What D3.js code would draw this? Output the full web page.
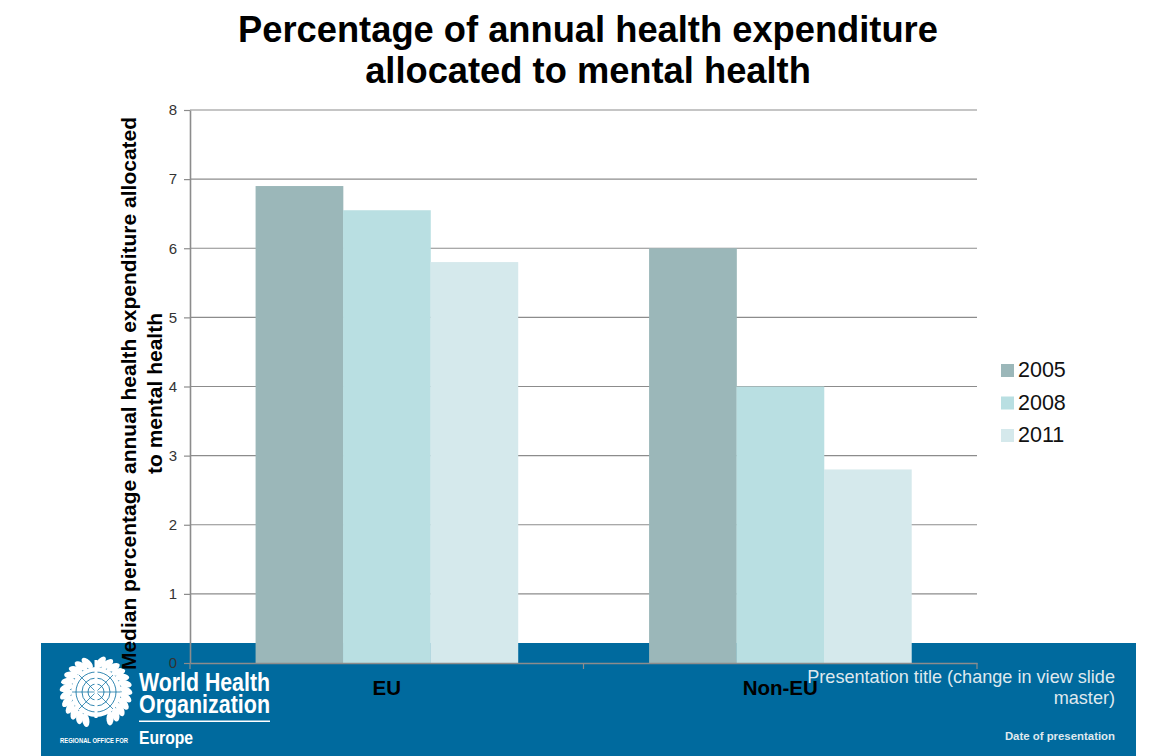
<!DOCTYPE html>
<html>
<head>
<meta charset="utf-8">
<script src="https://cdn.jsdelivr.net/npm/d3@7"></script>
<style>
  html, body { margin: 0; padding: 0; background: #fff; }
  svg { display: block; }
  text { font-family: "Liberation Sans", Arial, sans-serif; }
  .domain, .tick line { stroke: #8c8c8c; }
</style>
</head>
<body>
<div id="chart-container"></div>
<script>
(function() {
  'use strict';

const categories = ['EU', 'Non-EU'];
const years = ['2005', '2008', '2011'];
const values2005 = [6.9, 6.0];
const values2008 = [6.55, 4.0];
const values2011 = [5.8, 2.8];
const yTicks = [0, 1, 2, 3, 4, 5, 6, 7, 8];

const W = 1158;
const H = 756;
const LEFT = 190, RIGHT = 977, TOP = 110, BOTTOM = 663;
const colors = d3.scaleOrdinal().domain(years).range(['#9bb7b9', '#b9dfe2', '#d5e9ec']);
const BAND = '#006a9e';

const series = years.map((y, i) => ({
  year: y,
  values: [values2005, values2008, values2011][i]
}));

const svg = d3.select('#chart-container').append('svg')
  .attr('width', W)
  .attr('height', H);

// slide footer sits behind the chart
svg.append('rect')
  .attr('x', 41).attr('y', 643)
  .attr('width', 1095).attr('height', 113)
  .attr('fill', BAND);

drawLogo();

// slide title
svg.append('g')
  .attr('text-anchor', 'middle')
  .attr('font-size', 36.3)
  .attr('font-weight', 'bold')
  .selectAll('text')
  .data(['Percentage of annual health expenditure', 'allocated to mental health'])
  .join('text')
    .attr('x', 588)
    .attr('y', (d, i) => 42 + i * 41)
    .attr('fill', '#000')
    .text(d => d);

const xScale = d3.scaleBand().domain(categories).range([LEFT, RIGHT]);
const xInner = d3.scaleBand().domain(years)
  .range([0, xScale.bandwidth()])
  .paddingInner(0)
  .paddingOuter(0.75);
const yScale = d3.scaleLinear().domain([0, 8]).range([BOTTOM, TOP]);

// grid lines
svg.append('g')
  .selectAll('line')
  .data(yTicks.slice(1))
  .join('line')
    .attr('x1', LEFT).attr('x2', RIGHT)
    .attr('y1', d => yScale(d)).attr('y2', d => yScale(d))
    .attr('stroke', '#8c8c8c')
    .attr('stroke-width', 1.2);

// bars
svg.append('g')
  .selectAll('g')
  .data(series)
  .join('g')
    .attr('fill', d => colors(d.year))
  .selectAll('rect')
  .data(d => d.values.map((v, i) => ({ cat: categories[i], year: d.year, v: v })))
  .join('rect')
    .attr('x', d => xScale(d.cat) + xInner(d.year))
    .attr('y', d => yScale(d.v))
    .attr('width', xInner.bandwidth() + 0.3)
    .attr('height', d => BOTTOM - yScale(d.v));

// y axis
const yAxis = d3.axisLeft(yScale).tickValues(yTicks).tickSize(6).tickPadding(7).tickSizeOuter(0);
const yG = svg.append('g')
  .attr('transform', `translate(${LEFT}, 0)`)
  .call(yAxis);
yG.selectAll('.domain').attr('stroke-width', 1.6);
yG.selectAll('.tick line').attr('stroke-width', 1.2);
yG.selectAll('.tick text')
  .attr('font-size', 15)
  .attr('fill', '#333')
  .style('font-family', '"Liberation Sans", Arial, sans-serif');

// x axis
const xAxis = d3.axisBottom(xScale).tickSize(0).tickPadding(17);
const xG = svg.append('g')
  .attr('transform', `translate(0, ${BOTTOM})`)
  .call(xAxis);
xG.selectAll('.domain').attr('stroke-width', 1.6);
xG.selectAll('.tick text')
  .attr('font-size', 20.5)
  .attr('font-weight', 'bold')
  .attr('fill', '#000')
  .style('font-family', '"Liberation Sans", Arial, sans-serif');

// separators between the categories
xG.selectAll('.sep')
  .data([LEFT, (LEFT + RIGHT) / 2, RIGHT])
  .join('line')
    .attr('class', 'sep')
    .attr('x1', d => d).attr('x2', d => d)
    .attr('y1', 0).attr('y2', 6)
    .attr('stroke', '#8c8c8c')
    .attr('stroke-width', 1.2);

// y axis title, two lines
svg.append('g')
  .attr('transform', 'translate(136, 393.5) rotate(-90)')
  .attr('text-anchor', 'middle')
  .attr('font-size', 21)
  .attr('font-weight', 'bold')
  .selectAll('text')
  .data(['Median percentage annual health expenditure allocated', 'to mental health'])
  .join('text')
    .attr('x', 0)
    .attr('y', (d, i) => i * 26)
    .attr('fill', '#000')
    .text(d => d);

// legend
const legend = svg.append('g')
  .selectAll('g')
  .data(years)
  .join('g')
    .attr('transform', (d, i) => `translate(1001, ${364 + i * 32.5})`);
legend.append('rect')
  .attr('width', 13).attr('height', 13)
  .attr('fill', d => colors(d));
legend.append('text')
  .attr('x', 17).attr('y', 13)
  .attr('font-size', 21.5)
  .attr('fill', '#111')
  .text(d => d);

// footer text
svg.append('g')
  .attr('text-anchor', 'end')
  .attr('fill', '#dfe8ee')
  .attr('font-size', 18.1)
  .selectAll('text')
  .data(['Presentation title (change in view slide', 'master)'])
  .join('text')
    .attr('x', 1115)
    .attr('y', (d, i) => 683 + i * 21)
    .text(d => d);
svg.append('text')
  .attr('x', 1115).attr('y', 740)
  .attr('text-anchor', 'end')
  .attr('fill', '#dfe8ee')
  .attr('font-size', 11.4)
  .attr('font-weight', 'bold')
  .text('Date of presentation');

function drawLogo() {
  const logo = svg.append('g').attr('fill', '#fff');
  const emblem = logo.append('g').attr('transform', 'translate(96, 692)');

  // globe with rings and meridians
  emblem.append('circle').attr('r', 25);
  [8, 14, 20].forEach(r => {
    emblem.append('circle').attr('r', r)
      .attr('fill', 'none').attr('stroke', BAND).attr('stroke-width', 0.8);
  });
  emblem.append('path')
    .attr('d', 'M-25,0H25M-17,-17L17,17M17,-17L-17,17M0,-25V25')
    .attr('stroke', BAND).attr('stroke-width', 0.7);
  emblem.append('rect').attr('x', -1.5).attr('y', -32).attr('width', 3).attr('height', 58);

  // olive branches, one leaf at a time
  const leaves = d3.range(-160, 161, 13).filter(a => Math.abs(a) > 8);
  emblem.selectAll('ellipse')
    .data(leaves)
    .join('ellipse')
      .attr('rx', 3.6)
      .attr('ry', 7)
      .attr('transform', a => `rotate(${a + 180}) translate(0, 30) rotate(${a > 0 ? 30 : -30})`);

  logo.append('text')
    .attr('x', 139).attr('y', 691)
    .attr('font-size', 25).attr('font-weight', 'bold')
    .attr('textLength', 131).attr('lengthAdjust', 'spacingAndGlyphs')
    .text('World Health');
  logo.append('text')
    .attr('x', 139).attr('y', 713)
    .attr('font-size', 25).attr('font-weight', 'bold')
    .attr('textLength', 131).attr('lengthAdjust', 'spacingAndGlyphs')
    .text('Organization');
  logo.append('rect')
    .attr('x', 139).attr('y', 720.5)
    .attr('width', 131).attr('height', 1.5);
  logo.append('text')
    .attr('x', 139).attr('y', 744)
    .attr('font-size', 18).attr('font-weight', 'bold')
    .attr('textLength', 54).attr('lengthAdjust', 'spacingAndGlyphs')
    .text('Europe');
  logo.append('text')
    .attr('x', 60).attr('y', 743)
    .attr('font-size', 8).attr('font-weight', 'bold')
    .attr('textLength', 68).attr('lengthAdjust', 'spacingAndGlyphs')
    .text('REGIONAL OFFICE FOR');
}

})()
</script>
</body>
</html>
